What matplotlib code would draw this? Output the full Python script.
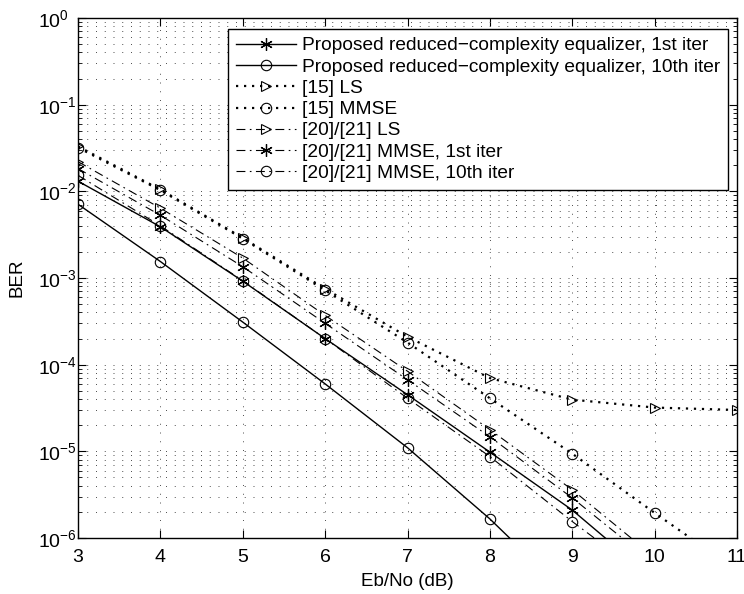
import numpy as np
import matplotlib
matplotlib.use("Agg")
import matplotlib.pyplot as plt
from matplotlib.ticker import LogLocator, NullFormatter, FixedLocator

plt.rcParams['font.family'] = ['Liberation Sans', 'DejaVu Sans']
plt.rcParams['mathtext.default'] = 'regular'
plt.rcParams['axes.unicode_minus'] = True

# ---- data ----
ebno = [3, 4, 5, 6, 7, 8, 9, 10, 11]
prop_1st = [1.31e-2, 3.9e-3, 9.2e-4, 2.0e-4, 4.5e-5, 9.8e-6, 2.1e-6, 3.3e-7]
prop_10th = [7.1e-3, 1.55e-3, 3.1e-4, 6.0e-5, 1.1e-5, 1.66e-6, 2.0e-7]
ref15_ls = [3.3e-2, 1.05e-2, 2.9e-3, 7.5e-4, 2.1e-4, 7.0e-5, 3.95e-5, 3.2e-5, 3.0e-5]
ref15_mmse = [3.2e-2, 1.03e-2, 2.85e-3, 7.2e-4, 1.8e-4, 4.1e-5, 9.4e-6, 1.95e-6, 4.2e-7]
ref2021_ls = [2.2e-2, 6.4e-3, 1.7e-3, 3.7e-4, 8.4e-5, 1.78e-5, 3.6e-6, 6.0e-7]
ref2021_mmse_1st = [1.83e-2, 5.3e-3, 1.35e-3, 3.0e-4, 6.7e-5, 1.47e-5, 2.9e-6, 5.0e-7]
ref2021_mmse_10th = [1.53e-2, 4.0e-3, 9.3e-4, 2.0e-4, 4.1e-5, 8.7e-6, 1.55e-6, 3.0e-7]

labels = ["Proposed reduced\u2212complexity equalizer, 1st iter",
          "Proposed reduced\u2212complexity equalizer, 10th iter",
          "[15] LS",
          "[15] MMSE",
          "[20]/[21] LS",
          "[20]/[21] MMSE, 1st iter",
          "[20]/[21] MMSE, 10th iter"]

xticks = [3, 4, 5, 6, 7, 8, 9, 10, 11]

W, H = 744, 594
fig = plt.figure(figsize=(W / 100, H / 100), dpi=100)
L, R, T, B = 78, 737, 18, 538
ax = fig.add_axes([L / W, 1 - B / H, (R - L) / W, (B - T) / H])

asterisk = (6, 2, 0)
dashdot = (0, (8, 4, 1.5, 4))
dotted = (0, (1, 2.6))
ms_c = 7.5
ms_t = 7.5
ms_a = 9

def xs(vals):
    return ebno[:len(vals)]

ax.plot(xs(prop_1st), prop_1st, color='k', ls='-', lw=1.0, marker=asterisk,
        ms=ms_a, mew=0.9, label=labels[0])
ax.plot(xs(prop_10th), prop_10th, color='k', ls='-', lw=1.0, marker='o',
        ms=ms_c, mfc='none', mew=0.8, label=labels[1])
ax.plot(xs(ref15_ls), ref15_ls, color='k', ls=dotted, lw=1.6, marker='>',
        ms=ms_t, mfc='none', mew=0.8, label=labels[2])
ax.plot(xs(ref15_mmse), ref15_mmse, color='k', ls=dotted, lw=1.6, marker='o',
        ms=ms_c, mfc='none', mew=0.8, label=labels[3])
ax.plot(xs(ref2021_ls), ref2021_ls, color='k', ls=dashdot, lw=0.8, marker='>',
        ms=ms_t, mfc='none', mew=0.8, label=labels[4])
ax.plot(xs(ref2021_mmse_1st), ref2021_mmse_1st, color='k', ls=dashdot, lw=0.8,
        marker=asterisk, ms=ms_a, mew=0.9, label=labels[5])
ax.plot(xs(ref2021_mmse_10th), ref2021_mmse_10th, color='k', ls=dashdot, lw=0.8,
        marker='o', ms=ms_c, mfc='none', mew=0.8, label=labels[6])

ax.set_yscale('log')
ax.set_xlim(3, 11)
ax.set_ylim(1e-6, 1)
ax.xaxis.set_major_locator(FixedLocator(xticks))
ax.set_xticklabels([str(t) for t in xticks])
ax.yaxis.set_major_locator(LogLocator(base=10, numticks=10))
ax.yaxis.set_minor_locator(LogLocator(base=10, subs=np.arange(2, 10), numticks=100))
ax.yaxis.set_minor_formatter(NullFormatter())

ax.grid(True, which='major', axis='both', color='0.3', ls=(0, (1, 8)), lw=0.7)
ax.grid(True, which='minor', axis='y', color='0.3', ls=(0, (1, 8)), lw=0.7)

ax.tick_params(which='both', direction='in', top=True, right=True, labelsize=14)
ax.tick_params(which='major', length=6, width=0.8)
ax.tick_params(which='minor', length=3, width=0.6)
ax.tick_params(axis='x', pad=8)
ax.tick_params(axis='y', pad=28.8)
for lab in ax.get_yticklabels():
    lab.set_horizontalalignment('left')
for s in ax.spines.values():
    s.set_linewidth(1.0)

ax.set_xlabel("Eb/No (dB)", fontsize=13.5, labelpad=5)
ax.set_ylabel("BER", fontsize=13.5)
ax.yaxis.set_label_coords((25 - L) / (R - L), 0.5)

leg = ax.legend(loc='upper right', bbox_to_anchor=((728 - L) / (R - L), 1 - (29 - T) / (B - T)),
                borderaxespad=0, fontsize=13.8, frameon=True, fancybox=False,
                framealpha=1, edgecolor='k', handlelength=3.1, handletextpad=0.32,
                labelspacing=0.2, borderpad=0.42)
leg.get_frame().set_linewidth(1.0)

fig.savefig("out.png", dpi=100)
